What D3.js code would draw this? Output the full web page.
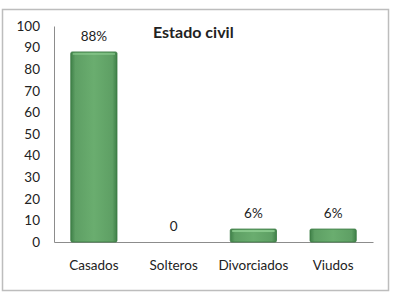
<!DOCTYPE html>
<html>
<head>
<meta charset="utf-8">
<script src="https://cdn.jsdelivr.net/npm/d3@7"></script>
<style>
  body { margin: 0; background: #fff; }
  svg text { font-family: Lato, "Open Sans", sans-serif; fill: #222; }
</style>
</head>
<body>
<div id="chart"></div>
<script>
// chart data
var categories = ["Casados", "Solteros", "Divorciados", "Viudos"];
var values = [88, 0, 6, 6];
var valueLabels = ["88%", "0", "6%", "6%"];
var yTicks = [0, 10, 20, 30, 40, 50, 60, 70, 80, 90, 100];

var W = 395, H = 302;
var margin = {top: 26, right: 22, bottom: 60, left: 54};

var svg = d3.select("#chart").append("svg")
    .attr("width", W)
    .attr("height", H);

// outer frame
svg.append("rect")
    .attr("x", 2.5).attr("y", 9.5)
    .attr("width", 386).attr("height", 281)
    .attr("fill", "#fff")
    .attr("stroke", "#bdbdbd")
    .attr("stroke-width", 1.5);

var defs = svg.append("defs");
var grad = defs.append("linearGradient").attr("id", "barGrad")
    .attr("x1", "0%").attr("x2", "100%").attr("y1", "0%").attr("y2", "0%");
grad.append("stop").attr("offset", "0%").attr("stop-color", "#3f8048");
grad.append("stop").attr("offset", "10%").attr("stop-color", "#5e9f64");
grad.append("stop").attr("offset", "50%").attr("stop-color", "#6aad6f");
grad.append("stop").attr("offset", "90%").attr("stop-color", "#5e9f64");
grad.append("stop").attr("offset", "100%").attr("stop-color", "#3f8048");

var x = d3.scaleBand()
    .domain(categories)
    .range([margin.left, 373])
    .paddingInner(0.42)
    .paddingOuter(0.21);

var y = d3.scaleLinear()
    .domain([0, 100])
    .range([242, margin.top]);

// y axis labels (no ticks)
var yAxis = svg.append("g")
    .attr("transform", "translate(" + margin.left + ",0)")
    .call(d3.axisLeft(y).tickValues(yTicks).tickSize(0).tickPadding(14));
yAxis.select(".domain").attr("stroke", "#8c8c8c");
yAxis.selectAll("text").style("font-size", "13.5px").attr("fill", "#222");

// x axis
var xAxis = svg.append("g")
    .attr("transform", "translate(0,242)")
    .call(d3.axisBottom(d3.scaleBand().domain(categories).range([margin.left, 373]))
        .tickSize(0).tickPadding(18));
xAxis.select(".domain").attr("stroke", "#8c8c8c");
xAxis.selectAll("text").style("font-size", "13.5px").attr("fill", "#222");

// bars
var bars = svg.append("g").selectAll("g")
    .data(values)
    .join("g");

bars.append("rect")
    .attr("x", function(d, i) { return x(categories[i]); })
    .attr("y", function(d) { return y(d); })
    .attr("width", x.bandwidth())
    .attr("height", function(d) { return y(0) - y(d); })
    .attr("fill", "url(#barGrad)")
    .attr("stroke", "#3a7a43")
    .attr("stroke-width", 0.8)
    .attr("rx", 1.5);

// top bevel highlight
bars.filter(function(d) { return d > 0; })
  .append("rect")
    .attr("x", function(d, i) { return x(categories[values.indexOf(d)]) + 2; })
    .attr("y", function(d) { return y(d) + 1; })
    .attr("width", x.bandwidth() - 4)
    .attr("height", 2)
    .attr("fill", "#8fcf92")
    .attr("opacity", 0.6);

// value labels
svg.append("g").selectAll("text")
    .data(values)
    .join("text")
    .attr("x", function(d, i) { return x(categories[i]) + x.bandwidth() / 2; })
    .attr("y", function(d) { return y(d) - 11; })
    .attr("text-anchor", "middle")
    .style("font-size", "13.5px")
    .text(function(d, i) { return valueLabels[i]; });

// title
svg.append("text")
    .attr("x", 153)
    .attr("y", 38)
    .style("font-size", "16px")
    .style("font-weight", "bold")
    .text("Estado civil");
</script>
</body>
</html>
